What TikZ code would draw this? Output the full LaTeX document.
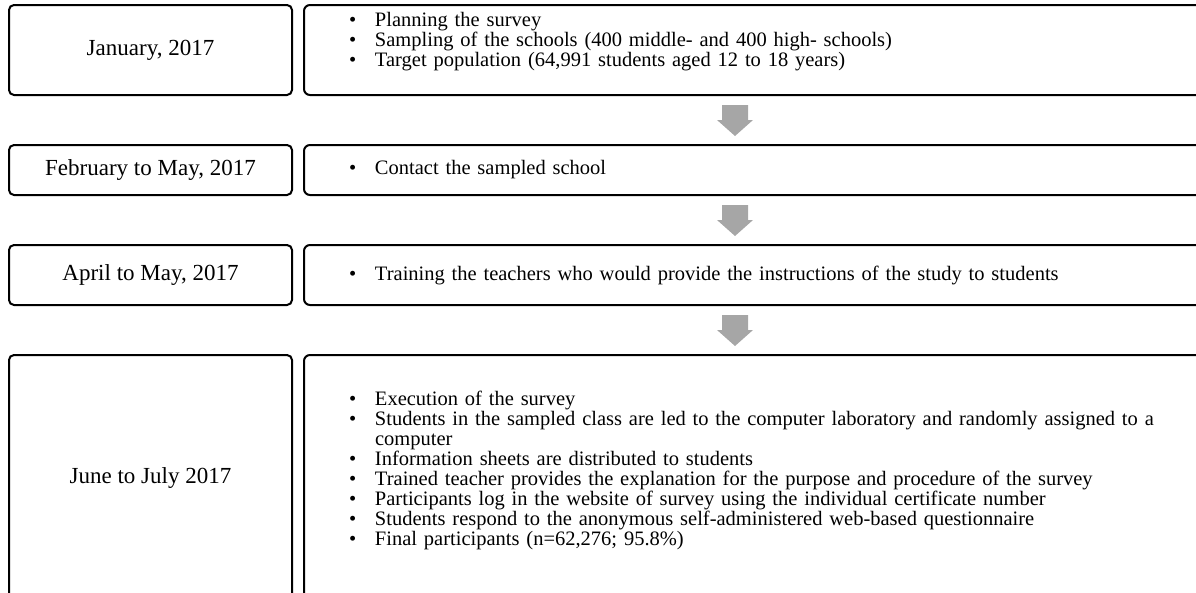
\documentclass[tikz,border=0pt]{standalone}
\usepackage{fontspec}
\setmainfont{Liberation Serif}
\usetikzlibrary{positioning,calc}
\newcommand{\datefont}{\fontsize{23}{27}\selectfont}
\newcommand{\bodyfont}{\fontsize{20.5}{20}\selectfont}
\newcommand{\bul}{\makebox[26pt][l]{\textbullet}}
\newcommand{\cont}{\hspace*{26pt}}
\newcommand{\blockarrow}[2]{\fill[arrowgray] ($(#1.south -| col)+(-13,9)$) -- ($(#1.south -| col)+(13,9)$) -- ($(#2.north -| col)+(13,-24)$) -- ($(#2.north -| col)+(18,-24)$) -- ($(#2.north -| col)+(0,-8)$) -- ($(#2.north -| col)+(-18,-24)$) -- ($(#2.north -| col)+(-13,-24)$) -- cycle;}
\definecolor{arrowgray}{HTML}{A6A6A6}
\begin{document}
\begin{tikzpicture}[x=1pt,y=-1pt,
  datebox/.style={draw,line width=2pt,rounded corners=5pt,minimum width=283pt,inner sep=0pt,font=\datefont},
  stepbox/.style={draw,line width=2pt,rounded corners=6pt,text width=840pt,inner xsep=45pt,inner ysep=0pt,align=left,font=\bodyfont}]
\useasboundingbox (0,0) rectangle (1196,592);
\clip (0,0) rectangle (1196,592);
\coordinate (col) at (735,0);
\node[datebox,minimum height=90pt] (d1) at (150.5,50) {January, 2017};
\node[datebox,minimum height=50pt,below=48pt of d1] (d2) {February to May, 2017};
\node[datebox,minimum height=60pt,below=48pt of d2] (d3) {April to May, 2017};
\node[datebox,minimum height=246pt,below=48pt of d3] (d4) {June to July 2017};
\node[stepbox,minimum height=90pt,right=10pt of d1] (s1) {\bul Planning the survey\\
  \bul Sampling of the schools (400 middle- and 400 high- schools)\\
  \bul Target population (64,991 students aged 12 to 18 years)\\[2pt]
  \mbox{}};
\node[stepbox,minimum height=50pt,right=10pt of d2] (s2) {\bul Contact the sampled school};
\node[stepbox,minimum height=60pt,right=10pt of d3] (s3) {\bul Training the teachers who would provide the instructions of the study to students};
\node[stepbox,minimum height=246pt,right=10pt of d4] (s4) {\bul Execution of the survey\\
  \bul Students in the sampled class are led to the computer laboratory and randomly assigned to a\\
  \cont computer\\
  \bul Information sheets are distributed to students\\
  \bul Trained teacher provides the explanation for the purpose and procedure of the survey\\
  \bul Participants log in the website of survey using the individual certificate number\\
  \bul Students respond to the anonymous self-administered web-based questionnaire\\
  \bul Final participants (n=62,276; 95.8\%)\\[0pt]
  \mbox{}};
\blockarrow{s1}{s2}
\blockarrow{s2}{s3}
\blockarrow{s3}{s4}
\end{tikzpicture}
\end{document}
